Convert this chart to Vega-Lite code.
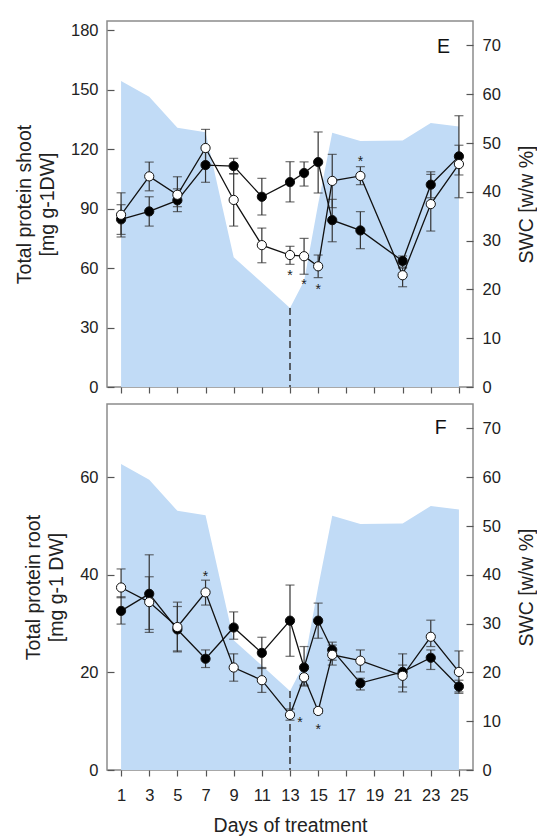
{
  "$schema": "https://vega.github.io/schema/vega-lite/v6.json",
  "padding": {"left": 13, "top": 20, "right": 0, "bottom": 0},
  "spacing": 6,
  "config": {
    "font": "Liberation Sans",
    "view": {"stroke": "#8c8c8c", "strokeWidth": 1.5},
    "axis": {"domain": false, "grid": false, "labelFontSize": 16.5, "labelColor": "#222", "titleFontSize": 19.5, "titleFontWeight": "normal", "titleColor": "#222", "tickColor": "#555", "tickWidth": 1.2},
    "axisY": {"tickSize": -7, "labelPadding": 16, "titlePadding": 13, "titleLineHeight": 23},
    "axisRight": {"titlePadding": 17},
    "axisX": {"tickSize": 6, "labelPadding": 11, "titlePadding": 13}
  },
  "datasets": {
    "swc": [
      {"day": 1, "swc": 62.7}, {"day": 3, "swc": 59.5}, {"day": 5, "swc": 53.1}, {"day": 7, "swc": 52.2},
      {"day": 9, "swc": 26.6}, {"day": 11, "swc": 21.4}, {"day": 13, "swc": 16.2}, {"day": 14, "swc": 21.7},
      {"day": 15, "swc": 37.5}, {"day": 16, "swc": 52.1}, {"day": 18, "swc": 50.4}, {"day": 21, "swc": 50.5},
      {"day": 23, "swc": 54.1}, {"day": 25, "swc": 53.4}
    ],
    "prot": [
      {"panel": "E", "group": "control", "day": 1, "mean": 84.6, "lo": 77, "hi": 92},
      {"panel": "E", "group": "control", "day": 3, "mean": 88.6, "lo": 81.2, "hi": 96},
      {"panel": "E", "group": "control", "day": 5, "mean": 94.2, "lo": 88.5, "hi": 100},
      {"panel": "E", "group": "control", "day": 7, "mean": 112.0, "lo": 103.3, "hi": 120},
      {"panel": "E", "group": "control", "day": 9, "mean": 111.5, "lo": 107.6, "hi": 115.4},
      {"panel": "E", "group": "control", "day": 11, "mean": 96.0, "lo": 86.8, "hi": 105.3},
      {"panel": "E", "group": "control", "day": 13, "mean": 103.4, "lo": 93.4, "hi": 113.7},
      {"panel": "E", "group": "control", "day": 14, "mean": 108.0, "lo": 101.4, "hi": 113.6},
      {"panel": "E", "group": "control", "day": 15, "mean": 113.5, "lo": 97.9, "hi": 128.7},
      {"panel": "E", "group": "control", "day": 16, "mean": 84.2, "lo": 73.3, "hi": 94.7},
      {"panel": "E", "group": "control", "day": 18, "mean": 79.0, "lo": 69.8, "hi": 88.5},
      {"panel": "E", "group": "control", "day": 21, "mean": 63.6, "lo": 60.5, "hi": 66.1},
      {"panel": "E", "group": "control", "day": 23, "mean": 102.1, "lo": 95.5, "hi": 108.6},
      {"panel": "E", "group": "control", "day": 25, "mean": 116.4, "lo": 107, "hi": 122},
      {"panel": "E", "group": "drought", "day": 1, "mean": 86.9, "lo": 75.7, "hi": 98},
      {"panel": "E", "group": "drought", "day": 3, "mean": 106.3, "lo": 99, "hi": 113.5},
      {"panel": "E", "group": "drought", "day": 5, "mean": 97.0, "lo": 91, "hi": 106.1},
      {"panel": "E", "group": "drought", "day": 7, "mean": 120.6, "lo": 113, "hi": 130.0},
      {"panel": "E", "group": "drought", "day": 9, "mean": 94.4, "lo": 81.2, "hi": 107.6},
      {"panel": "E", "group": "drought", "day": 11, "mean": 71.6, "lo": 62.7, "hi": 80.2},
      {"panel": "E", "group": "drought", "day": 13, "mean": 66.6, "lo": 61.9, "hi": 71.0},
      {"panel": "E", "group": "drought", "day": 14, "mean": 66.0, "lo": 56.9, "hi": 75.0},
      {"panel": "E", "group": "drought", "day": 15, "mean": 60.9, "lo": 55.2, "hi": 66.6},
      {"panel": "E", "group": "drought", "day": 16, "mean": 104.0, "lo": 90.5, "hi": 117.4},
      {"panel": "E", "group": "drought", "day": 18, "mean": 106.5, "lo": 102.1, "hi": 111.2},
      {"panel": "E", "group": "drought", "day": 21, "mean": 56.4, "lo": 50.6, "hi": 60},
      {"panel": "E", "group": "drought", "day": 23, "mean": 92.3, "lo": 78.7, "hi": 107.3},
      {"panel": "E", "group": "drought", "day": 25, "mean": 112.5, "lo": 95.5, "hi": 136.9},
      {"panel": "F", "group": "control", "day": 1, "mean": 32.6, "lo": 29.9, "hi": 35.5},
      {"panel": "F", "group": "control", "day": 3, "mean": 36.1, "lo": 28.2, "hi": 44.1},
      {"panel": "F", "group": "control", "day": 5, "mean": 28.8, "lo": 24.2, "hi": 33.5},
      {"panel": "F", "group": "control", "day": 7, "mean": 22.8, "lo": 21.0, "hi": 24.6},
      {"panel": "F", "group": "control", "day": 9, "mean": 29.2, "lo": 26.8, "hi": 32.4},
      {"panel": "F", "group": "control", "day": 11, "mean": 24.0, "lo": 20.8, "hi": 27.2},
      {"panel": "F", "group": "control", "day": 13, "mean": 30.6, "lo": 23.3, "hi": 37.9},
      {"panel": "F", "group": "control", "day": 14, "mean": 21.0, "lo": 17.2, "hi": 25.3},
      {"panel": "F", "group": "control", "day": 15, "mean": 30.6, "lo": 27.0, "hi": 34.2},
      {"panel": "F", "group": "control", "day": 16, "mean": 24.6, "lo": 22.5, "hi": 26.2},
      {"panel": "F", "group": "control", "day": 18, "mean": 17.8, "lo": 16.4, "hi": 18.8},
      {"panel": "F", "group": "control", "day": 21, "mean": 20.1, "lo": 16.0, "hi": 23.8},
      {"panel": "F", "group": "control", "day": 23, "mean": 23.0, "lo": 20.6, "hi": 24.6},
      {"panel": "F", "group": "control", "day": 25, "mean": 17.1, "lo": 15.7, "hi": 18.4},
      {"panel": "F", "group": "drought", "day": 1, "mean": 37.4, "lo": 35.3, "hi": 41.2},
      {"panel": "F", "group": "drought", "day": 3, "mean": 34.4, "lo": 28.8, "hi": 39.6},
      {"panel": "F", "group": "drought", "day": 5, "mean": 29.3, "lo": 24.4, "hi": 34.4},
      {"panel": "F", "group": "drought", "day": 7, "mean": 36.4, "lo": 33.8, "hi": 38.9},
      {"panel": "F", "group": "drought", "day": 9, "mean": 21.0, "lo": 18.2, "hi": 23.8},
      {"panel": "F", "group": "drought", "day": 11, "mean": 18.4, "lo": 15.9, "hi": 21.0},
      {"panel": "F", "group": "drought", "day": 13, "mean": 11.3, "lo": 10.2, "hi": 12.5},
      {"panel": "F", "group": "drought", "day": 14, "mean": 19.0, "lo": 17.4, "hi": 21.2},
      {"panel": "F", "group": "drought", "day": 15, "mean": 12.1, "lo": 11.6, "hi": 12.6},
      {"panel": "F", "group": "drought", "day": 16, "mean": 23.6, "lo": 21.5, "hi": 25.6},
      {"panel": "F", "group": "drought", "day": 18, "mean": 22.4, "lo": 20.1, "hi": 24.6},
      {"panel": "F", "group": "drought", "day": 21, "mean": 19.3, "lo": 17.0, "hi": 21.5},
      {"panel": "F", "group": "drought", "day": 23, "mean": 27.3, "lo": 25.3, "hi": 30.7},
      {"panel": "F", "group": "drought", "day": 25, "mean": 20.1, "lo": 16.0, "hi": 24.4}
    ],
    "stars": [
      {"panel": "E", "day": 13, "y": 58.0},
      {"panel": "E", "day": 14, "y": 53.5},
      {"panel": "E", "day": 15, "y": 51.2},
      {"panel": "E", "day": 18, "y": 115.6},
      {"panel": "F", "day": 7, "y": 40.3},
      {"panel": "F", "day": 13.7, "y": 10.4},
      {"panel": "F", "day": 15, "y": 9.0}
    ],
    "labels": [
      {"panel": "E", "day": 23.9, "y": 171.4, "label": "E"},
      {"panel": "F", "day": 23.7, "y": 70.0, "label": "F"}
    ]
  },
  "vconcat": [
    {
      "width": 366, "height": 366,
      "layer": [
        {
          "data": {"name": "swc"},
          "encoding": {
            "x": {"field": "day", "type": "quantitative", "scale": {"domain": [0, 26], "nice": false},
                  "axis": {"values": [1,3,5,7,9,11,13,15,17,19,21,23,25], "labels": false, "title": null}}
          },
          "layer": [
            {"mark": {"type": "area", "color": "#c1dbf6", "opacity": 1},
             "encoding": {"y": {"field": "swc", "type": "quantitative", "scale": {"domain": [0, 75], "nice": false},
               "axis": {"orient": "right", "values": [0,10,20,30,40,50,60,70], "title": "SWC [w/w %]", "titleAngle": 270, "titleBaseline": "top"}}}},
            {"transform": [{"filter": "datum.day == 13"}],
             "mark": {"type": "rule", "strokeDash": [7, 4], "color": "#333", "strokeWidth": 1.5},
             "encoding": {"y": {"field": "swc", "type": "quantitative"}, "y2": {"datum": 0}}}
          ]
        },
        {
          "encoding": {
            "x": {"field": "day", "type": "quantitative", "scale": {"domain": [0, 26], "nice": false},
                  "axis": {"values": [1,3,5,7,9,11,13,15,17,19,21,23,25], "labels": false, "title": null}}
          },
          "layer": [
            {"data": {"name": "prot"}, "transform": [{"filter": "datum.panel == 'E'"}],
             "mark": {"type": "rule", "color": "#333", "strokeWidth": 1.2},
             "encoding": {"y": {"field": "lo", "type": "quantitative", "scale": {"domain": [0, 184.7], "nice": false},
               "axis": {"orient": "left", "values": [0,30,60,90,120,150,180], "title": ["Total protein shoot", "[mg g-1DW]"]}},
               "y2": {"field": "hi"}}},
            {"data": {"name": "prot"}, "transform": [{"filter": "datum.panel == 'E'"}],
             "mark": {"type": "tick", "orient": "horizontal", "size": 9, "thickness": 1.2, "color": "#333"},
             "encoding": {"y": {"field": "lo", "type": "quantitative"}}},
            {"data": {"name": "prot"}, "transform": [{"filter": "datum.panel == 'E'"}],
             "mark": {"type": "tick", "orient": "horizontal", "size": 9, "thickness": 1.2, "color": "#333"},
             "encoding": {"y": {"field": "hi", "type": "quantitative"}}},
            {"data": {"name": "prot"}, "transform": [{"filter": "datum.panel == 'E'"}],
             "mark": {"type": "line", "color": "#111", "strokeWidth": 1.3},
             "encoding": {"y": {"field": "mean", "type": "quantitative"}, "detail": {"field": "group", "type": "nominal"}}},
            {"data": {"name": "prot"}, "transform": [{"filter": "datum.panel == 'E'"}],
             "mark": {"type": "point", "shape": "circle", "size": 85, "stroke": "#111", "strokeWidth": 1, "opacity": 1, "filled": true},
             "encoding": {"y": {"field": "mean", "type": "quantitative"},
               "fill": {"field": "group", "type": "nominal", "scale": {"domain": ["control", "drought"], "range": ["#000000", "#ffffff"]}, "legend": null}}},
            {"data": {"name": "stars"}, "transform": [{"filter": "datum.panel == 'E'"}],
             "mark": {"type": "text", "text": "*", "fontSize": 14, "baseline": "alphabetic", "dy": 8, "color": "#222"},
             "encoding": {"y": {"field": "y", "type": "quantitative"}}},
            {"data": {"name": "labels"}, "transform": [{"filter": "datum.panel == 'E'"}],
             "mark": {"type": "text", "fontSize": 19.5, "baseline": "middle", "color": "#111"},
             "encoding": {"y": {"field": "y", "type": "quantitative"}, "text": {"field": "label", "type": "nominal"}}}
          ]
        }
      ],
      "resolve": {"scale": {"y": "independent"}}
    },
    {
      "width": 366, "height": 366,
      "layer": [
        {
          "data": {"name": "swc"},
          "encoding": {
            "x": {"field": "day", "type": "quantitative", "scale": {"domain": [0, 26], "nice": false},
                  "axis": {"values": [1,3,5,7,9,11,13,15,17,19,21,23,25], "title": "Days of treatment"}}
          },
          "layer": [
            {"mark": {"type": "area", "color": "#c1dbf6", "opacity": 1},
             "encoding": {"y": {"field": "swc", "type": "quantitative", "scale": {"domain": [0, 75], "nice": false},
               "axis": {"orient": "right", "values": [0,10,20,30,40,50,60,70], "title": "SWC [w/w %]", "titleAngle": 270, "titleBaseline": "top"}}}},
            {"transform": [{"filter": "datum.day == 13"}],
             "mark": {"type": "rule", "strokeDash": [7, 4], "color": "#333", "strokeWidth": 1.5},
             "encoding": {"y": {"field": "swc", "type": "quantitative"}, "y2": {"datum": 0}}}
          ]
        },
        {
          "encoding": {
            "x": {"field": "day", "type": "quantitative", "scale": {"domain": [0, 26], "nice": false},
                  "axis": {"values": [1,3,5,7,9,11,13,15,17,19,21,23,25], "title": "Days of treatment"}}
          },
          "layer": [
            {"data": {"name": "prot"}, "transform": [{"filter": "datum.panel == 'F'"}],
             "mark": {"type": "rule", "color": "#333", "strokeWidth": 1.2},
             "encoding": {"y": {"field": "lo", "type": "quantitative", "scale": {"domain": [0, 75], "nice": false},
               "axis": {"orient": "left", "values": [0,20,40,60], "title": ["Total protein root", "[mg g-1 DW]"]}},
               "y2": {"field": "hi"}}},
            {"data": {"name": "prot"}, "transform": [{"filter": "datum.panel == 'F'"}],
             "mark": {"type": "tick", "orient": "horizontal", "size": 9, "thickness": 1.2, "color": "#333"},
             "encoding": {"y": {"field": "lo", "type": "quantitative"}}},
            {"data": {"name": "prot"}, "transform": [{"filter": "datum.panel == 'F'"}],
             "mark": {"type": "tick", "orient": "horizontal", "size": 9, "thickness": 1.2, "color": "#333"},
             "encoding": {"y": {"field": "hi", "type": "quantitative"}}},
            {"data": {"name": "prot"}, "transform": [{"filter": "datum.panel == 'F'"}],
             "mark": {"type": "line", "color": "#111", "strokeWidth": 1.3},
             "encoding": {"y": {"field": "mean", "type": "quantitative"}, "detail": {"field": "group", "type": "nominal"}}},
            {"data": {"name": "prot"}, "transform": [{"filter": "datum.panel == 'F'"}],
             "mark": {"type": "point", "shape": "circle", "size": 85, "stroke": "#111", "strokeWidth": 1, "opacity": 1, "filled": true},
             "encoding": {"y": {"field": "mean", "type": "quantitative"},
               "fill": {"field": "group", "type": "nominal", "scale": {"domain": ["control", "drought"], "range": ["#000000", "#ffffff"]}, "legend": null}}},
            {"data": {"name": "stars"}, "transform": [{"filter": "datum.panel == 'F'"}],
             "mark": {"type": "text", "text": "*", "fontSize": 14, "baseline": "alphabetic", "dy": 8, "color": "#222"},
             "encoding": {"y": {"field": "y", "type": "quantitative"}}},
            {"data": {"name": "labels"}, "transform": [{"filter": "datum.panel == 'F'"}],
             "mark": {"type": "text", "fontSize": 19.5, "baseline": "middle", "color": "#111"},
             "encoding": {"y": {"field": "y", "type": "quantitative"}, "text": {"field": "label", "type": "nominal"}}}
          ]
        }
      ],
      "resolve": {"scale": {"y": "independent"}}
    }
  ]
}
